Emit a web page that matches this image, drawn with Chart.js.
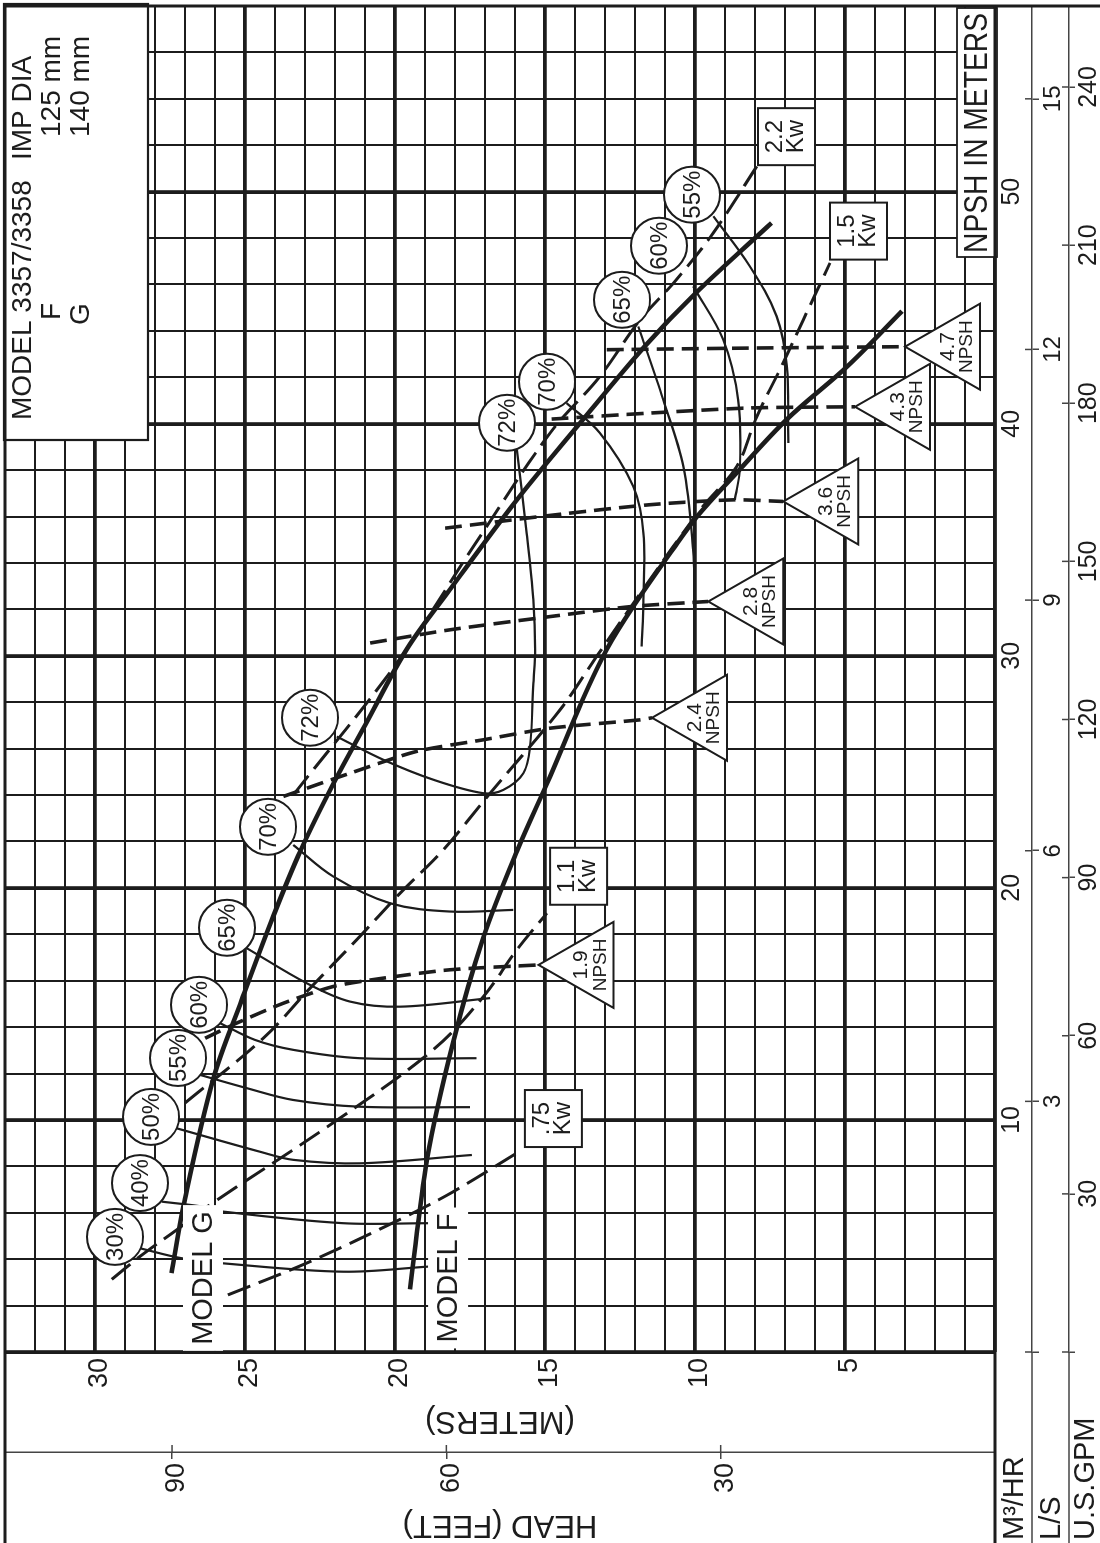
<!DOCTYPE html>
<html>
<head>
<meta charset="utf-8">
<script src="https://cdn.jsdelivr.net/npm/chart.js@4.4.1/dist/chart.umd.min.js"></script>
<style>
  html, body { margin: 0; padding: 0; background: #fff; overflow: hidden; width: 1100px; height: 1543px; }
  #wrap { position: absolute; left: 0; top: 0; width: 1543px; height: 1100px;
          transform-origin: 0 0; transform: translate(0, 1543px) rotate(-90deg); background: #fff; }
  canvas { display: block; }
</style>
</head>
<body>
<div id="wrap"><canvas id="c" width="1543" height="1100"></canvas></div>
<script>
// ---------------- DATA (flow in M3/HR, head in meters) ----------------
const flowTicks = [0,2,4,6,8,10,12,14,16,18,20,22,24,26,28,30,32,34,36,38,40,42,44,46,48,50,52,54,56,58];
const headTicks = [0,1,2,3,4,5,6,7,8,9,10,11,12,13,14,15,16,17,18,19,20,21,22,23,24,25,26,27,28,29,30,31,32,33];
const lsTicks   = [0,3,6,9,12,15];
const gpmTicks  = [0,30,60,90,120,150,180,210,240];
const feetTicks = [30,60,90];

// head-capacity curves
const modelG = [[3.4,27.45],[6.3,27.05],[11.8,26.05],[15.2,25.1],[18.8,24.05],[21.6,23.15],[24.5,22.05],[27.0,21.0],[30.3,19.6],[32.8,18.2],[36.7,15.95],[40.0,13.85],[43.3,11.7],[45.6,10.0],[48.65,7.45]];
const modelF = [[2.7,19.5],[8.3,18.93],[13.4,18.05],[17.8,17.07],[21.6,15.93],[24.8,14.83],[28.1,13.75],[30.3,12.93],[32.1,12.07],[34.6,10.73],[36.0,9.93],[37.9,8.6],[40.2,6.93],[42.5,4.9],[44.85,3.1]];

// efficiency curves
const eff30  = [[4.47,28.5],[4.04,27.11],[3.82,25.72],[3.46,21.72],[3.68,18.89]];
const eff40  = [[6.48,27.78],[6.26,26.39],[6.05,25.72],[5.55,21.72],[5.55,18.89]];
const eff50  = [[9.64,27.28],[8.63,24.5],[8.28,23.39],[8.13,21.17],[8.49,17.44]];
const eff55  = [[11.94,26.5],[11.37,24.94],[10.86,23.39],[10.57,21.17],[10.55,17.5]];
const eff60  = [[14.17,25.83],[13.45,24.67],[13.02,23.39],[12.66,21.17],[12.66,17.28]];
const eff65  = [[17.4,24.94],[15.89,22.94],[15.1,21.5],[14.88,19.83],[15.25,16.83]];
const eff70  = [[21.85,23.39],[20.49,22.06],[19.34,20.17],[18.98,18.17],[19.05,16.06]];
const eff72  = [[26.52,21.94],[25.52,20.39],[24.66,18.72],[24.08,17.06],[24.22,16.39],[24.94,15.72],[26.09,15.5],[28.82,15.39],[30.26,15.33],[32.41,15.39],[35.29,15.61],[38.88,15.94]];
const eff70b = [[40.89,14.28],[39.6,13.17],[37.3,12.06],[35.29,11.72],[32.41,11.72],[30.4,11.78]];
const eff65b = [[44.19,11.89],[41.03,11.06],[38.16,10.39],[34.57,10.06],[32.41,10.0]];
const eff60b = [[45.92,10.06],[43.62,9.06],[41.03,8.56],[38.16,8.5],[36.72,8.67]];
const eff55b = [[48.94,9.39],[46.78,8.17],[44.63,7.28],[42.47,6.94],[39.17,6.89]];

// power curves
const kw075 = [[2.46,25.57],[3.84,22.93],[5.78,19.73],[6.9,18.07],[8.71,15.77]];
const kw11  = [[3.13,29.44],[4.18,28.44],[5.26,27.28],[6.34,26.17],[9.87,22.07],[13.02,18.73],[15.3,17.06],[17.33,15.94],[18.91,14.94]];
const kw15  = [[10.73,27.0],[13.52,24.39],[15.68,22.83],[17.76,21.28],[19.77,19.83],[21.64,18.39],[24.08,16.83],[27.67,14.5],[29.97,13.28],[33.1,11.6],[36.29,9.83],[38.16,8.61],[40.31,7.94],[42.62,7.06],[44.48,6.39],[46.93,5.5]];
const kw22  = [[24.01,23.39],[29.68,19.94],[34.7,17.39],[39.6,14.83],[42.04,13.17],[44.48,11.83],[46.13,10.67],[48.22,9.39],[51.09,7.94]];

// NPSH required lines (last point = label tip)
const npsh19 = [[13.52,26.33],[14.17,25.28],[15.03,23.72],[15.75,22.06],[16.11,20.39],[16.47,18.17],[16.68,15.22]];
const npsh24 = [[23.94,23.72],[24.94,21.5],[25.88,19.28],[26.38,17.06],[26.88,14.83],[27.24,11.83],[27.33,11.43]];
const npsh28 = [[30.55,20.83],[31.12,18.17],[31.69,14.83],[32.13,12.06],[32.34,9.56]];
const npsh36 = [[35.5,18.33],[36.05,14.83],[36.51,11.5],[36.72,8.72],[36.65,7.06]];
const npsh43 = [[40.2,14.78],[40.46,11.5],[40.68,8.17],[40.73,4.67]];
const npsh47 = [[43.19,12.94],[43.26,8.17],[43.32,3.0]];

// labels: [text, flow, head]
const effLabels = [['30%',4.96,29.33],['40%',7.28,28.5],['50%',10.13,28.13],['55%',12.67,27.23],['60%',14.96,26.53],['65%',18.28,25.6],['70%',22.63,24.23],['72%',27.33,22.83],
                   ['72%',40.04,16.27],['70%',41.81,14.93],['65%',45.34,12.43],['60%',47.67,11.2],['55%',49.87,10.1]];
const kwLabels  = [['.75',10.06,14.72],['1.1',20.5,13.88],['1.5',48.3,4.55],['2.2',52.37,6.95]];
const npshLabels = [['1.9',npsh19],['2.4',npsh24],['2.8',npsh28],['3.6',npsh36],['4.3',npsh43],['4.7',npsh47]];
const modelLabels = [['MODEL G',3.19,26.4],['MODEL F',3.19,18.23]];

// ---------------- CHART ----------------
const FONT = "'Liberation Sans', Arial, Helvetica, sans-serif";
const INK = '#1c1c1c';
Chart.defaults.font.family = FONT;
Chart.defaults.color = INK;

const toXY = a => a.map(p => ({x: p[0], y: p[1]}));
function ds(pts, kind) {
  const base = {data: toXY(pts), showLine: true, pointRadius: 0, borderColor: INK, fill: false,
                tension: 0.35, borderCapStyle: 'butt', borderJoinStyle: 'round'};
  if (kind === 'head') return Object.assign(base, {borderWidth: 4.6});
  if (kind === 'eff')  return Object.assign(base, {borderWidth: 2.2});
  if (kind === 'kw')   return Object.assign(base, {borderWidth: 3, borderDash: [24, 9]});
  return Object.assign(base, {borderWidth: 3.6, borderDash: [17, 8], tension: 0.25});
}
const datasets = [
  ds(modelG,'head'), ds(modelF,'head'),
  ds(eff30,'eff'), ds(eff40,'eff'), ds(eff50,'eff'), ds(eff55,'eff'), ds(eff60,'eff'), ds(eff65,'eff'),
  ds(eff70,'eff'), ds(eff72,'eff'), ds(eff70b,'eff'), ds(eff65b,'eff'), ds(eff60b,'eff'), ds(eff55b,'eff'),
  ds(kw075,'kw'), ds(kw11,'kw'), ds(kw15,'kw'), ds(kw22,'kw'),
  ds(npsh19,'npsh'), ds(npsh24,'npsh'), ds(npsh28,'npsh'), ds(npsh36,'npsh'), ds(npsh43,'npsh'), ds(npsh47,'npsh')
];

const setTicks = arr => s => { s.ticks = arr.map(v => ({value: v})); };
const fitH = h => s => { s.height = h; s.paddingLeft = 0; s.paddingRight = 0; s.paddingTop = 0; s.paddingBottom = 0; };
const fitW = w => s => { s.width = w; s.paddingLeft = 0; s.paddingRight = 0; s.paddingTop = 0; s.paddingBottom = 0; };

const overlay = {
  id: 'overlay',
  afterDatasetsDraw(chart) {
    const {ctx, chartArea: ca} = chart;
    const X = chart.scales.x, Y = chart.scales.y;
    const px = v => X.getPixelForValue(v), py = v => Y.getPixelForValue(v);
    ctx.save();
    ctx.strokeStyle = INK;
    ctx.textAlign = 'center';
    ctx.textBaseline = 'middle';

    // MODEL G / MODEL F labels on white
    ctx.font = '29px ' + FONT;
    modelLabels.forEach(([t, f, h]) => {
      const cx = px(f), cy = py(h);
      const w = ctx.measureText(t).width;
      ctx.fillStyle = '#fff';
      ctx.fillRect(cx - w / 2 - 6, cy - 20, w + 12, 40);
      ctx.fillStyle = INK;
      ctx.fillText(t, cx, cy + 1);
    });

    // efficiency circles
    ctx.lineWidth = 2;
    effLabels.forEach(([t, f, h]) => {
      const cx = px(f), cy = py(h);
      ctx.beginPath(); ctx.arc(cx, cy, 28, 0, Math.PI * 2);
      ctx.fillStyle = '#fff'; ctx.fill(); ctx.stroke();
      ctx.fillStyle = INK; ctx.font = '24px ' + FONT;
      ctx.fillText(t, cx, cy + 1);
    });

    // power boxes
    kwLabels.forEach(([t, f, h]) => {
      const cx = px(f), cy = py(h);
      ctx.fillStyle = '#fff'; ctx.fillRect(cx - 28.5, cy - 28.5, 57, 57);
      ctx.lineWidth = 2; ctx.strokeRect(cx - 28.5, cy - 28.5, 57, 57);
      ctx.fillStyle = INK; ctx.font = '24px ' + FONT;
      ctx.fillText(t, cx, cy - 11);
      ctx.fillText('Kw', cx, cy + 10);
    });

    // NPSH triangles
    npshLabels.forEach(([t, pts]) => {
      const p = pts[pts.length - 1];
      const tx = px(p[0]), ty = py(p[1]);
      ctx.beginPath(); ctx.moveTo(tx, ty); ctx.lineTo(tx + 43, ty + 75); ctx.lineTo(tx - 43, ty + 75); ctx.closePath();
      ctx.fillStyle = '#fff'; ctx.fill(); ctx.lineWidth = 2; ctx.stroke();
      ctx.fillStyle = INK;
      ctx.font = '21px ' + FONT; ctx.fillText(t, tx, ty + 43);
      ctx.font = '19px ' + FONT; ctx.fillText('NPSH', tx, ty + 62);
    });

    // MODEL header box
    const bx = ca.right - 434, by = ca.top - 1, bw = 436, bh = 144;
    ctx.fillStyle = '#fff'; ctx.fillRect(bx, by, bw, bh);
    ctx.lineWidth = 2.2; ctx.strokeRect(bx, by, bw, bh);
    ctx.fillStyle = INK; ctx.font = '28px ' + FONT; ctx.textAlign = 'left';
    ctx.fillText('MODEL 3357/3358', bx + 20, by + 19);
    ctx.fillText('IMP DIA', bx + 280, by + 19);
    ctx.fillText('F', bx + 120, by + 48);
    ctx.fillText('125 mm', bx + 303, by + 48);
    ctx.fillText('G', bx + 115, by + 77);
    ctx.fillText('140 mm', bx + 303, by + 77);

    // NPSH IN METERS box
    const nx = ca.right - 251, ny = ca.bottom - 38;
    ctx.fillStyle = '#fff'; ctx.fillRect(nx, ny, 249, 40);
    ctx.lineWidth = 1.8; ctx.strokeRect(nx, ny, 249, 40);
    ctx.fillStyle = INK;
    ctx.save();
    ctx.font = '34px ' + FONT;
    const tw = ctx.measureText('NPSH IN METERS').width;
    ctx.translate(nx + 4, ny + 21);
    ctx.scale(240 / tw, 1);
    ctx.fillText('NPSH IN METERS', 0, 0);
    ctx.restore();
    ctx.restore();
  },
  afterDraw(chart) {
    const {ctx, chartArea: ca} = chart;
    const L = chart.scales.xLs, G = chart.scales.xGpm, F = chart.scales.yFt;
    const H = chart.height;
    ctx.save();
    ctx.strokeStyle = INK;
    const line = (x1, y1, x2, y2, w) => { ctx.lineWidth = w; ctx.beginPath(); ctx.moveTo(x1, y1); ctx.lineTo(x2, y2); ctx.stroke(); };
    // outer frame
    line(0, ca.top, ca.right + 1.5, ca.top, 3);
    line(ca.right, ca.top, ca.right, H, 3);
    line(0, ca.bottom, ca.right, ca.bottom, 3);
    ctx.strokeStyle = '#444';
    line(0, L.top, ca.left, L.top, 1.5);
    line(0, G.top, ca.left, G.top, 1.5);
    // ticks crossing axis lines
    L.ticks.forEach(t => { const x = L.getPixelForValue(t.value); line(x, L.top - 7, x, L.top, 1.5); });
    G.ticks.forEach(t => { const x = G.getPixelForValue(t.value); line(x, G.top - 7, x, G.top, 1.5); });
    F.ticks.forEach(t => { const y = F.getPixelForValue(t.value); line(F.right, y, F.right + 7, y, 1.5); });
    // unit captions in the corner
    ctx.fillStyle = INK; ctx.textAlign = 'left'; ctx.textBaseline = 'middle';
    ctx.font = '29px ' + FONT;
    ctx.fillText('M\u00B3/HR', 3, (ca.bottom + L.top) / 2 + 1);
    ctx.fillText('L/S', 3, (L.top + G.top) / 2 + 1);
    ctx.fillText('U.S.GPM', 3, (G.top + H) / 2 + 1);
    ctx.restore();
  }
};

new Chart(document.getElementById('c'), {
  type: 'scatter',
  data: {datasets},
  options: {
    responsive: false, maintainAspectRatio: false, animation: false, devicePixelRatio: 1, events: [],
    layout: {padding: {top: 5, right: 6, left: 0, bottom: 0}},
    plugins: {legend: {display: false}, tooltip: {enabled: false}},
    scales: {
      x: {
        type: 'linear', axis: 'x', position: 'bottom', min: 0, max: 58, weight: 0,
        afterBuildTicks: setTicks(flowTicks), afterFit: fitH(37),
        grid: {color: INK, drawTicks: false, lineWidth: c => (c.tick && c.tick.value % 10 === 0) ? 3.8 : 2},
        border: {display: false},
        ticks: {autoSkip: false, maxRotation: 0, minRotation: 0, padding: 2, font: {size: 25},
                callback: v => (v % 10 === 0 && v > 0 && v < 58) ? String(v) : ''}
      },
      xLs: {
        type: 'linear', axis: 'x', position: 'bottom', min: 0, max: 58 / 3.6, weight: 1,
        afterBuildTicks: setTicks(lsTicks), afterFit: fitH(37),
        grid: {drawOnChartArea: false, drawTicks: true, tickLength: 7, color: '#444', lineWidth: 1.5},
        border: {display: true, color: '#444', width: 1.5},
        ticks: {autoSkip: false, maxRotation: 0, minRotation: 0, padding: 0, font: {size: 24},
                callback: v => v === 0 ? '' : String(v)}
      },
      xGpm: {
        type: 'linear', axis: 'x', position: 'bottom', min: 0, max: 58 / 0.2271247, weight: 2,
        afterBuildTicks: setTicks(gpmTicks), afterFit: fitH(31),
        grid: {drawOnChartArea: false, drawTicks: true, tickLength: 6, color: '#444', lineWidth: 1.5},
        border: {display: true, color: '#444', width: 1.5},
        ticks: {autoSkip: false, maxRotation: 0, minRotation: 0, padding: -1, font: {size: 25},
                callback: v => v === 0 ? '' : String(v)}
      },
      y: {
        type: 'linear', axis: 'y', position: 'left', min: 0, max: 33, weight: 0,
        afterBuildTicks: setTicks(headTicks), afterFit: fitW(100),
        grid: {color: INK, drawTicks: false, lineWidth: c => (c.tick && c.tick.value % 5 === 0) ? 3.8 : 2},
        border: {display: false},
        ticks: {autoSkip: false, padding: 6, labelOffset: 5, font: {size: 27},
                callback: v => (v % 5 === 0 && v > 0 && v < 33) ? String(v) : ''},
        title: {display: true, text: '(METERS)', color: INK, font: {size: 31}, padding: {top: 13, bottom: 0}}
      },
      yFt: {
        type: 'linear', axis: 'y', position: 'left', min: 0, max: 33 / 0.3048, weight: 1,
        afterBuildTicks: setTicks(feetTicks), afterFit: fitW(91),
        grid: {drawOnChartArea: false, drawTicks: true, tickLength: 7, color: '#444', lineWidth: 1.5},
        border: {display: true, color: '#444', width: 1.5},
        ticks: {autoSkip: false, padding: 4, labelOffset: 5, font: {size: 27}},
        title: {display: true, text: 'HEAD (FEET)', color: INK, font: {size: 31}, padding: {top: 0, bottom: 0}}
      }
    }
  },
  plugins: [overlay]
});
</script>
</body>
</html>
